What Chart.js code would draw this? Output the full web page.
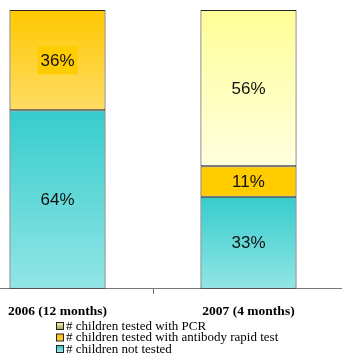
<!DOCTYPE html>
<html>
<head>
<meta charset="utf-8">
<script src="https://cdn.jsdelivr.net/npm/chart.js@4/dist/chart.umd.min.js"></script>
<style>
html,body{margin:0;padding:0;background:#fff;overflow:hidden;}
#wrap{position:absolute;left:-38px;top:0;width:382px;height:358px;}
</style>
</head>
<body>
<div id="wrap"><canvas id="c"></canvas></div>
<script>
const categories = ["2006 (12 months)", "2007 (4 months)"];
const seriesNames = ["# children not tested", "# children tested with antibody rapid test", "# children tested with PCR"];
const notTested = [64, 33];
const rapidTest = [36, 11];
const pcr = [0, 56];

// gradient stops per series [top, bottom]
const gradients = [
  ["#36cccc", "#92e5e5"],
  ["#ffc800", "#ffdd66"],
  ["#ffff99", "#ffffde"]
];
const rapidSolid = "#ffcc00";

const allSeries = [notTested, rapidTest, pcr];

function segGradient(ctx) {
  const chart = ctx.chart;
  const ds = ctx.datasetIndex, i = ctx.dataIndex;
  const yScale = chart.scales && chart.scales.y;
  if (!chart.chartArea || !yScale) return gradients[ds][0];
  if (ds === 1 && i === 1) return rapidSolid;
  let start = 0;
  for (let k = 0; k < ds; k++) start += allSeries[k][i];
  const end = start + allSeries[ds][i];
  const yTop = yScale.getPixelForValue(end);
  const yBot = yScale.getPixelForValue(start);
  if (!isFinite(yTop) || !isFinite(yBot) || yTop === yBot) return gradients[ds][0];
  const g = chart.ctx.createLinearGradient(0, yTop, 0, yBot);
  g.addColorStop(0, gradients[ds][0]);
  g.addColorStop(1, gradients[ds][1]);
  return g;
}

const labelPlugin = {
  id: 'segLabels',
  afterDatasetsDraw(chart) {
    const ctx = chart.ctx;
    ctx.save();
    ctx.font = '17px "Liberation Sans", Arial, sans-serif';
    ctx.textAlign = 'center';
    ctx.textBaseline = 'middle';
    chart.data.datasets.forEach((ds, di) => {
      const meta = chart.getDatasetMeta(di);
      meta.data.forEach((el, i) => {
        const v = ds.data[i];
        if (!v) return;
        const cy = (el.y + el.base) / 2;
        const txt = v + '%';
        if (di === 1 && i === 0) {
          const w = ctx.measureText(txt).width;
          ctx.fillStyle = rapidSolid;
          ctx.fillRect(el.x - w / 2 - 3, cy - 14, w + 6, 28);
        }
        ctx.fillStyle = '#111';
        ctx.fillText(txt, el.x, cy + 1);
      });
    });
    ctx.restore();
  }
};

const legendPlugin = {
  id: 'stackLegend',
  afterDraw(chart) {
    const ctx = chart.ctx;
    ctx.save();
    ctx.font = '13px "Liberation Serif", "Times New Roman", serif';
    ctx.textBaseline = 'middle';
    ctx.textAlign = 'left';
    const x0 = 94, y0 = 326, dy = 11.5;
    const order = [2, 1, 0];
    order.forEach((di, row) => {
      const y = y0 + row * dy;
      const g = ctx.createLinearGradient(0, y - 3, 0, y + 3);
      if (di === 2) { g.addColorStop(0, "#f0f0b0"); g.addColorStop(1, "#a8a860"); }
      else if (di === 1) { g.addColorStop(0, "#ffc000"); g.addColorStop(1, "#ffd040"); }
      else { g.addColorStop(0, "#30c8c8"); g.addColorStop(1, "#a0e8e8"); }
      ctx.fillStyle = g;
      ctx.fillRect(x0, y - 3.5, 7, 7);
      ctx.strokeStyle = '#222';
      ctx.lineWidth = 1;
      ctx.strokeRect(x0 + 0.5, y - 3.5, 7, 7);
      ctx.fillStyle = '#000';
      ctx.fillText(chart.data.datasets[di].label, x0 + 10, y + 0.5);
    });
    ctx.restore();
  }
};

new Chart(document.getElementById('c'), {
  type: 'bar',
  data: {
    labels: categories,
    datasets: allSeries.map((arr, k) => ({
      label: seriesNames[k],
      data: arr,
      backgroundColor: segGradient,
      borderColor: '#222',
      borderWidth: 1,
      borderSkipped: false,
      categoryPercentage: 1,
      barPercentage: 0.503
    }))
  },
  options: {
    responsive: true,
    maintainAspectRatio: false,
    animation: false,
    layout: { padding: { top: 10, bottom: 28, left: 0, right: 0 } },
    plugins: { legend: { display: false }, tooltip: { enabled: false } },
    scales: {
      x: {
        stacked: true,
        offset: true,
        grid: { display: true, drawOnChartArea: false, drawTicks: true, tickLength: 5, color: '#666', offset: true },
        border: { display: true, color: '#777', width: 1 },
        ticks: {
          color: '#000',
          padding: 10,
          maxRotation: 0,
          font: { family: '"Liberation Serif", "Times New Roman", serif', size: 13.5, weight: 'bold' }
        }
      },
      y: {
        stacked: true,
        display: false,
        min: 0,
        max: 100
      }
    }
  },
  plugins: [labelPlugin, legendPlugin]
});
</script>
</body>
</html>
